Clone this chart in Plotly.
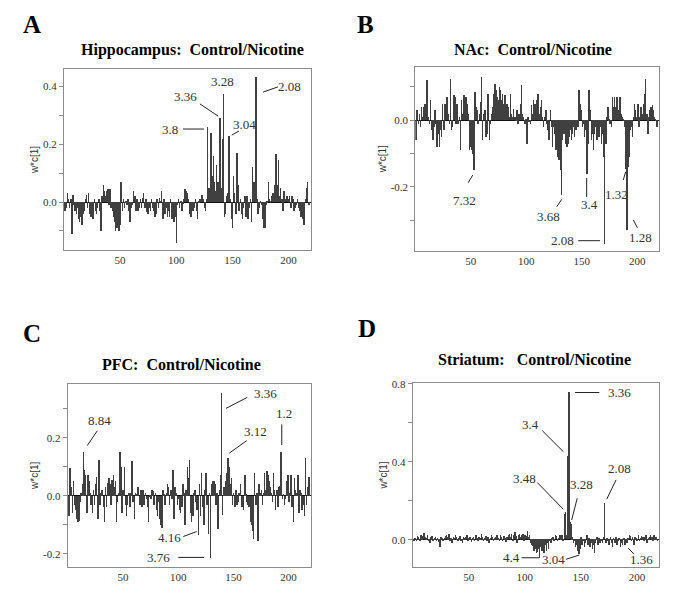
import plotly.graph_objects as go

# ---------------- data (variable index 1..218, w*c[1]) ----------------
var_index = list(range(1, 219))

hippocampus = [
 -0.03,-0.02,0.03,0.01,-0.02,0.01,-0.11,0.025,-0.01,-0.03,
 -0.04,-0.02,-0.06,-0.07,-0.05,-0.08,-0.04,-0.03,0.01,0.025,
 -0.02,0.03,-0.04,-0.05,-0.02,-0.06,0.01,-0.03,-0.04,-0.02,
 0.01,-0.03,-0.10,0.02,0.06,0.04,0.02,0.04,0.045,-0.01,
 0.045,-0.02,-0.03,-0.05,-0.07,-0.10,-0.09,-0.06,-0.10,-0.08,
 0.068,-0.03,0.01,-0.02,0.005,-0.01,0.01,-0.03,-0.07,-0.02,
 -0.01,0.04,0.02,-0.03,0.01,-0.03,-0.02,0.01,-0.02,0.015,
 0.03,-0.02,0.01,-0.035,-0.04,-0.02,-0.03,0.01,-0.02,-0.03,
 -0.05,-0.04,0.01,-0.02,0.015,0.005,0.04,-0.06,0.01,-0.04,
 -0.02,-0.05,-0.03,-0.05,0.01,-0.06,-0.04,-0.07,-0.05,-0.14,
 -0.01,0.01,-0.02,0.005,-0.03,-0.005,0.01,0.045,0.04,0.03,
 0.01,-0.04,-0.05,-0.02,-0.03,-0.02,0.01,-0.03,-0.06,0.005,
 0.01,0.01,0.025,0.01,-0.02,-0.03,0.01,0.26,0.05,0.03,
 0.24,0.09,0.16,0.07,0.04,0.13,0.07,0.03,0.29,0.05,
 0.22,0.375,-0.05,-0.04,0.02,0.03,0.23,0.01,-0.06,-0.09,
 0.09,0.03,-0.04,0.17,0.06,-0.03,0.01,-0.04,-0.06,-0.02,
 0.02,-0.05,0.02,-0.06,-0.02,0.01,-0.07,0.12,0.07,0.03,
 0.435,0.01,-0.04,-0.02,0.005,-0.01,-0.06,-0.09,-0.09,-0.01,
 0.005,0.07,0.01,0.005,0.02,0.03,0.03,0.06,0.165,0.06,
 0.145,0.02,0.05,0.01,-0.03,0.04,0.01,0.02,0.02,0.01,
 0.02,-0.02,0.02,0.01,-0.03,-0.02,-0.01,0.01,-0.02,-0.03,
 -0.05,-0.03,-0.06,-0.08,0.01,0.05,0.07,-0.01]

nac = [
 -0.06,0.03,-0.01,0.02,-0.02,0.04,0.01,0.04,0.05,0.02,
 0.12,0.01,-0.01,0.06,-0.03,-0.06,-0.02,0.03,-0.01,-0.08,
 -0.04,-0.08,-0.03,-0.05,0.05,-0.03,0.05,0.03,0.07,0.02,
 -0.01,0.125,-0.03,-0.02,0.075,0.07,-0.01,0.05,-0.01,0.01,
 -0.09,0.06,0.02,0.075,0.04,0.07,0.05,0.02,-0.09,-0.08,
 -0.09,-0.10,-0.15,0.085,0.04,0.03,-0.01,0.02,0.055,0.13,
 -0.06,0.02,0.03,-0.05,-0.04,0.08,-0.06,-0.01,0.02,0.04,
 0.08,0.11,0.09,0.07,0.06,0.10,0.09,0.06,0.08,0.05,
 0.075,0.02,0.05,0.04,0.01,0.08,0.02,0.01,0.035,0.01,
 0.005,0.03,-0.01,0.02,0.05,0.105,0.02,0.01,-0.01,0.005,
 -0.07,0.01,-0.005,-0.01,0.045,0.02,0.06,0.05,0.03,0.06,
 0.08,0.02,0.04,0.06,0.01,-0.02,0.01,0.03,-0.01,-0.03,
 -0.06,0.03,-0.02,-0.08,-0.02,-0.04,-0.09,-0.04,-0.11,-0.12,
 -0.15,-0.225,-0.06,-0.04,-0.04,-0.07,-0.08,-0.07,-0.05,-0.03,
 -0.06,-0.04,-0.02,-0.05,-0.03,-0.01,-0.02,0.09,0.05,0.03,
 -0.02,-0.01,-0.05,-0.03,-0.16,-0.07,0.09,0.03,-0.06,-0.04,
 -0.09,-0.04,-0.02,-0.06,-0.02,-0.05,-0.02,-0.07,-0.04,-0.11,
 -0.372,-0.07,0.01,0.04,0.005,-0.01,-0.02,0.07,0.04,0.07,
 0.04,0.07,0.03,0.02,0.07,0.02,0.01,0.005,-0.02,-0.145,
 -0.33,-0.14,-0.11,-0.03,-0.02,-0.05,0.01,0.05,0.03,0.01,
 0.05,-0.02,0.01,0.04,0.02,0.05,0.08,0.125,0.02,-0.04,
 0.01,0.03,0.04,0.045,0.03,0.01,0.005,-0.02]

pfc = [
 -0.07,0.095,0.03,-0.06,0.05,-0.03,-0.05,-0.08,-0.09,-0.085,
 -0.02,0.01,0.04,0.15,0.09,0.07,-0.06,0.07,0.05,0.01,
 -0.03,-0.06,0.02,-0.03,0.04,0.065,-0.08,0.125,-0.03,0.01,
 0.02,-0.04,-0.09,0.03,-0.04,0.045,0.06,0.04,-0.03,0.055,
 0.07,0.03,0.05,-0.09,-0.02,0.01,0.15,0.10,-0.06,0.02,
 0.10,-0.03,-0.07,-0.03,0.01,-0.04,0.01,0.12,-0.02,-0.08,
 0.01,0.005,0.03,0.03,-0.03,0.02,-0.04,0.02,-0.03,0.01,
 -0.01,-0.04,-0.09,-0.005,-0.01,0.02,0.015,-0.03,0.01,-0.05,
 -0.07,-0.02,-0.08,-0.10,-0.11,0.02,0.005,-0.03,0.01,0.04,
 0.03,-0.03,0.02,-0.01,0.09,-0.08,0.03,0.01,-0.03,-0.01,
 -0.05,-0.06,-0.04,0.04,0.01,-0.10,0.02,0.10,0.06,0.125,
 -0.06,-0.09,-0.07,0.01,0.02,-0.02,-0.05,-0.135,0.04,-0.07,
 0.08,-0.04,-0.10,0.02,0.08,-0.03,-0.13,0.01,-0.215,0.04,
 0.05,0.05,0.04,-0.03,0.01,-0.115,0.02,0.07,0.355,-0.065,
 0.03,0.03,0.05,0.08,0.13,0.10,0.04,0.06,-0.03,0.01,
 -0.04,0.02,-0.03,-0.02,0.01,0.04,-0.04,-0.04,-0.05,0.07,
 0.005,-0.02,-0.03,-0.04,-0.09,-0.10,-0.12,-0.15,0.08,-0.03,
 0.01,-0.155,0.04,0.01,0.02,-0.03,0.01,0.08,0.02,0.085,
 0.07,0.05,0.03,0.01,-0.02,0.08,0.02,-0.05,0.02,-0.04,
 0.03,0.035,0.15,-0.01,0.005,-0.03,-0.01,0.05,0.07,-0.02,
 0.01,0.07,-0.04,-0.09,0.06,0.02,0.01,0.07,-0.06,0.02,
 0.01,-0.05,-0.03,-0.07,0.13,-0.03,0.03,0.065]

striatum = [
 -0.01,0.005,-0.005,0.015,0.01,-0.01,0.02,0.005,0.015,0.035,
 0.01,0.005,0.02,-0.005,-0.02,0.01,0.015,-0.01,0.005,0.01,
 -0.01,0.005,-0.015,-0.04,0.01,0.005,-0.01,0.005,0.015,0.02,
 0.01,0.03,-0.01,0.005,-0.02,0.01,0.005,0.025,0.01,-0.01,
 0.005,0.015,-0.005,-0.02,0.01,0.005,0.01,0.02,-0.01,0.005,
 0.01,-0.015,0.005,0.01,-0.01,0.02,0.005,-0.005,0.01,0.005,
 0.03,0.01,-0.01,0.005,0.015,-0.005,0.01,-0.02,0.005,0.025,
 0.01,-0.01,0.005,0.01,0.02,0.005,-0.01,0.02,0.01,-0.005,
 0.015,0.005,-0.015,0.01,0.02,0.03,0.01,0.03,-0.01,0.02,
 0.04,0.015,-0.02,0.02,0.03,0.01,0.025,0.03,-0.01,0.02,
 0.015,0.045,0.01,0.02,-0.02,-0.03,-0.035,-0.06,-0.05,-0.07,
 -0.065,-0.05,-0.095,-0.04,-0.06,-0.04,-0.07,-0.03,-0.06,-0.02,
 -0.05,-0.01,-0.02,0.005,0.01,-0.005,0.02,0.015,-0.01,0.005,
 0.02,0.01,0.02,-0.005,0.13,0.14,0.02,0.43,0.756,0.09,
 0.08,0.01,-0.02,-0.01,-0.04,-0.03,-0.06,-0.075,-0.05,0.01,
 -0.03,-0.01,-0.04,-0.02,0.02,-0.03,0.005,-0.04,-0.02,-0.05,
 -0.03,-0.07,-0.02,0.01,-0.03,0.005,-0.02,-0.01,-0.02,0.01,
 0.185,-0.02,0.005,-0.01,-0.03,0.01,-0.02,-0.04,0.005,-0.02,
 0.01,-0.03,-0.01,0.005,-0.04,-0.02,-0.03,0.005,-0.03,-0.01,
 -0.02,0.005,0.02,0.015,-0.005,0.01,-0.03,0.01,0.005,-0.01,
 0.02,-0.01,0.005,0.015,0.01,-0.005,0.01,0.02,-0.02,0.005,
 0.01,0.025,0.01,-0.01,0.02,0.005,0.01,-0.01]

x_tick_vals = [50, 100, 150, 200]

# ppm labels: (text, text x, text y, leader line (x0, y0, x1, y1) or None) in data units
labels_a = [("3.8", 94.4, 0.253, (106.0, 0.253, 124.7, 0.253)),
            ("3.36", 107.8, 0.364, (121.1, 0.340, 137.2, 0.298)),
            ("3.28", 141.4, 0.416, None),
            ("3.04", 160.6, 0.270, (149.4, 0.232, 155.9, 0.246)),
            ("2.08", 201.3, 0.399, (177.3, 0.381, 190.6, 0.399))]
labels_b = [("7.32", 43.9, -0.240, (47.7, -0.188, 51.8, -0.165)),
            ("3.68", 119.9, -0.290, (127.5, -0.260, 132.0, -0.238)),
            ("3.4", 157.5, -0.252, (154.5, -0.231, 154.5, -0.174)),
            ("1.32", 181.6, -0.222, (187.5, -0.180, 189.7, -0.155)),
            ("1.28", 202.6, -0.353, (196.6, -0.300, 200.2, -0.323)),
            ("2.08", 132.9, -0.360, (146.9, -0.362, 166.5, -0.362))]
labels_c = [("8.84", 28.4, 0.259, (26.8, 0.224, 17.7, 0.173)),
            ("4.16", 92.6, -0.145, (104.7, -0.140, 116.8, -0.123)),
            ("3.76", 82.0, -0.211, (100.1, -0.212, 123.4, -0.212)),
            ("3.36", 179.3, 0.351, (162.6, 0.339, 143.3, 0.301)),
            ("3.12", 169.9, 0.223, (162.1, 0.190, 146.3, 0.147)),
            ("1.2", 196.1, 0.282, (193.8, 0.246, 193.8, 0.175))]
labels_d = [("3.36", 184.3, 0.756, (144.8, 0.756, 166.5, 0.756)),
            ("3.4", 105.3, 0.590, (115.6, 0.560, 134.4, 0.452)),
            ("3.48", 99.6, 0.316, (111.2, 0.293, 134.4, 0.156)),
            ("3.28", 150.8, 0.281, (146.8, 0.213, 141.8, 0.101)),
            ("2.08", 184.3, 0.367, (181.4, 0.307, 173.1, 0.208)),
            ("4.4", 88.3, -0.093, (97.2, -0.093, 112.9, -0.093)),
            ("3.04", 125.4, -0.101, (136.8, -0.101, 148.6, -0.079)),
            ("1.36", 204.3, -0.101, (192.3, -0.044, 197.4, -0.074))]

panels = [
    dict(letter="A", title="Hippocampus:&nbsp; Control/Nicotine", y=hippocampus, labels=labels_a,
         xdom=[0.0934, 0.4540], ydom=[0.5908, 0.8871], yr=[-0.166, 0.461],
         yt=[-0.1, 0.0, 0.1, 0.2, 0.3, 0.4], ytl=["", "0.0", "", "0.2", "", "0.4"],
         letpos=(0.0467, 0.9591), titpos=(0.2803, 0.9182)),
    dict(letter="B", title="NAc:&nbsp; Control/Nicotine", y=nac, labels=labels_b,
         xdom=[0.6063, 0.9625], ydom=[0.5897, 0.8908], yr=[-0.392, 0.16],
         yt=[-0.3, -0.2, -0.1, 0.0, 0.1], ytl=["", "-0.2", "", "0.0", ""],
         letpos=(0.5343, 0.9591), titpos=(0.7781, 0.9182)),
    dict(letter="C", title="PFC:&nbsp; Control/Nicotine", y=pfc, labels=labels_c,
         xdom=[0.0988, 0.4536], ydom=[0.0725, 0.3715], yr=[-0.244, 0.385],
         yt=[-0.2, -0.1, 0.0, 0.1, 0.2, 0.3], ytl=["-0.2", "", "0.0", "", "0.2", ""],
         letpos=(0.0463, 0.4545), titpos=(0.2653, 0.4038)),
    dict(letter="D", title="Striatum:&nbsp;&nbsp; Control/Nicotine", y=striatum, labels=labels_d,
         xdom=[0.6025, 0.9625], ydom=[0.0725, 0.3727], yr=[-0.139, 0.8035],
         yt=[0.0, 0.2, 0.4, 0.6, 0.8], ytl=["0.0", "", "0.4", "", "0.8"],
         letpos=(0.5353, 0.4627), titpos=(0.781, 0.412)),
]

SERIF = "Liberation Serif, Times New Roman, serif"
SANS = "Liberation Sans, Arial, sans-serif"

fig = go.Figure()
annotations = []
shapes = []
layout_axes = {}

for k, p in enumerate(panels, start=1):
    xa = "x" if k == 1 else f"x{k}"
    ya = "y" if k == 1 else f"y{k}"
    fig.add_trace(go.Bar(x=var_index, y=p["y"], xaxis=xa, yaxis=ya,
                         width=0.5, marker=dict(color="#404040", line=dict(width=0)),
                         showlegend=False, hoverinfo="x+y"))
    xkey = "xaxis" if k == 1 else f"xaxis{k}"
    ykey = "yaxis" if k == 1 else f"yaxis{k}"
    layout_axes[xkey] = dict(domain=p["xdom"], anchor=ya, range=[0, 220], automargin=False,
                             tickvals=x_tick_vals, ticks="", showgrid=False, zeroline=False,
                             showline=True, mirror=True, linecolor="#8c8c8c", linewidth=1,
                             tickfont=dict(family=SERIF, size=11, color="#333"))
    layout_axes[ykey] = dict(domain=p["ydom"], anchor=xa, range=p["yr"], automargin=False,
                             tickvals=p["yt"], ticktext=p["ytl"], ticks="outside", ticklen=4,
                             tickcolor="#8c8c8c", showgrid=False,
                             zeroline=True, zerolinecolor="#111", zerolinewidth=1,
                             showline=True, mirror=True, linecolor="#8c8c8c", linewidth=1,
                             tickfont=dict(family=SERIF, size=11, color="#333"),
                             title=dict(text="w*c[1]", standoff=2,
                                        font=dict(family=SANS, size=10, color="#333")))
    annotations.append(dict(text=f"<b>{p['letter']}</b>", x=p["letpos"][0], y=p["letpos"][1],
                            xref="paper", yref="paper", xanchor="center", yanchor="middle",
                            showarrow=False, font=dict(family=SERIF, size=25, color="#000")))
    annotations.append(dict(text=f"<b>{p['title']}</b>", x=p["titpos"][0], y=p["titpos"][1],
                            xref="paper", yref="paper", xanchor="center", yanchor="middle",
                            showarrow=False, font=dict(family=SERIF, size=16, color="#000")))
    for (txt, tx, ty, line) in p["labels"]:
        annotations.append(dict(text=txt, x=tx, y=ty, xref=xa, yref=ya, showarrow=False,
                                xanchor="center", yanchor="middle",
                                font=dict(family=SERIF, size=13, color="#333")))
        if line is not None:
            shapes.append(dict(type="line", xref=xa, yref=ya, x0=line[0], y0=line[1],
                               x1=line[2], y1=line[3], line=dict(color="#222", width=1)))

fig.update_layout(width=685, height=611, margin=dict(l=0, r=0, t=0, b=0),
                  paper_bgcolor="white", plot_bgcolor="white", bargap=0,
                  annotations=annotations, shapes=shapes, **layout_axes)

fig.write_html("out.html", config={"displayModeBar": False},
               post_script="document.body.style.margin='0px';document.body.style.overflow='hidden';")
